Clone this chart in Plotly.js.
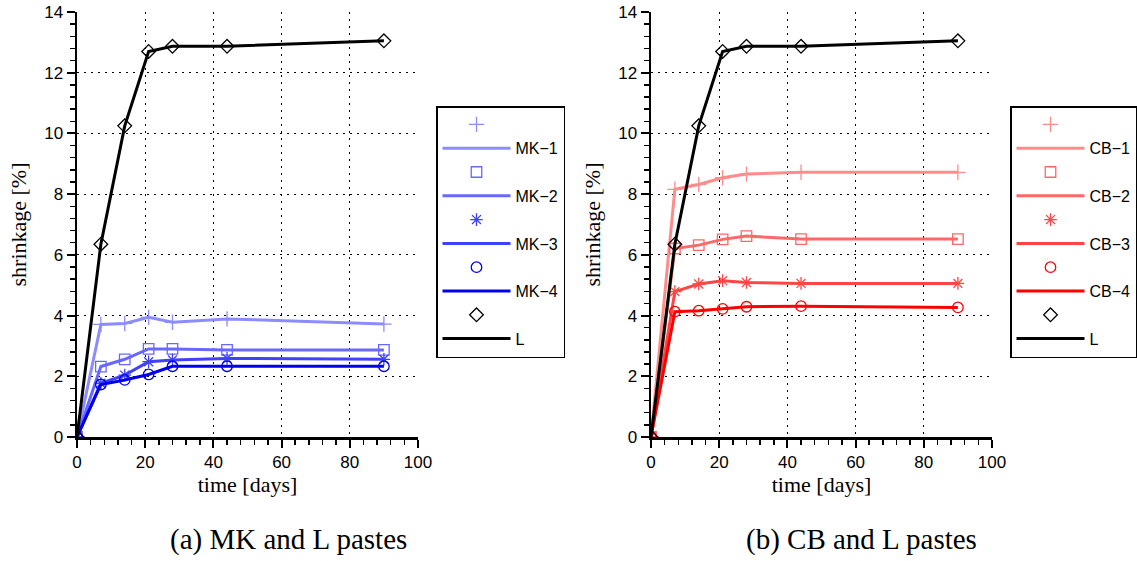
<!DOCTYPE html>
<html>
<head>
<meta charset="utf-8">
<script src="https://cdn.plot.ly/plotly-3.0.1.min.js"></script>
<style>html,body{margin:0;padding:0;background:#fff;}#chart{width:1137px;height:561px;}</style>
</head>
<body>
<div id="chart"></div>
<script>
// ---- data ----
const days = [0, 7, 14, 21, 28, 44, 90];
const mk1 = [0, 3.71, 3.74, 3.94, 3.78, 3.89, 3.72];
const mk2 = [0, 2.32, 2.56, 2.90, 2.90, 2.87, 2.87];
const mk3 = [0, 1.77, 2.04, 2.48, 2.54, 2.59, 2.56];
const mk4 = [0, 1.73, 1.88, 2.06, 2.33, 2.33, 2.33];
const lPaste = [0, 6.35, 10.25, 12.70, 12.87, 12.87, 13.05];
const cb1 = [0, 8.16, 8.32, 8.54, 8.66, 8.72, 8.72];
const cb2 = [0, 6.21, 6.32, 6.51, 6.62, 6.52, 6.52];
const cb3 = [0, 4.79, 5.04, 5.15, 5.09, 5.06, 5.06];
const cb4 = [0, 4.13, 4.16, 4.22, 4.29, 4.31, 4.27];

const mkNames = ['MK\u22121', 'MK\u22122', 'MK\u22123', 'MK\u22124', 'L'];
const cbNames = ['CB\u22121', 'CB\u22122', 'CB\u22123', 'CB\u22124', 'L'];
const yTicks = [0, 2, 4, 6, 8, 10, 12, 14];
const xTicks = [0, 20, 40, 60, 80, 100];

const symbols = ['cross-thin-open', 'square-open', 'asterisk-open', 'circle-open', 'diamond-open'];
const mkColors = ['#8c8cff', '#6868ff', '#4040ff', '#0000ee', '#000000'];
const cbColors = ['#ff8c8c', '#ff6868', '#ff4646', '#ff0000', '#000000'];

const W = 1137, H = 561;
const traces = [];
function addGroup(series, names, colors, xa, ya, leg) {
  series.forEach((ys, i) => {
    traces.push({
      x: days, y: ys, xaxis: xa, yaxis: ya, legend: leg,
      mode: 'lines', name: names[i], legendrank: 10 + 2 * i + 1,
      line: {color: colors[i], width: 3}, hoverinfo: 'skip'
    });
    traces.push({
      x: days, y: ys, xaxis: xa, yaxis: ya, legend: leg,
      mode: 'markers', name: ' ', legendrank: 10 + 2 * i,
      marker: {symbol: symbols[i], size: i === 0 ? 11 : 10.5, color: colors[i], line: {color: colors[i], width: 1.3}},
      hoverinfo: 'skip'
    });
  });
}
addGroup([mk1, mk2, mk3, mk4, lPaste], mkNames, mkColors, 'x', 'y', 'legend');
addGroup([cb1, cb2, cb3, cb4, lPaste], cbNames, cbColors, 'x2', 'y2', 'legend2');

const tickFont = {family: 'Liberation Sans, Arial, sans-serif', size: 17, color: '#000'};
const titleFont = {family: 'Liberation Serif, Times New Roman, serif', size: 22, color: '#000'};
function xAxis(dom, anchor) {
  return {
    domain: dom, anchor: anchor, range: [0, 100], tickvals: xTicks, ticktext: xTicks.map(String),
    ticks: 'outside', ticklen: 8, tickwidth: 2, tickcolor: '#000',
    minor: {dtick: 4, tick0: 0, ticks: 'outside', ticklen: 5, tickwidth: 1.5, tickcolor: '#000', showgrid: false},
    showline: true, linewidth: 2.5, linecolor: '#000', zeroline: false,
    showgrid: true, gridcolor: '#000', gridwidth: 1, griddash: '1.5px,5.5px',
    tickfont: tickFont, fixedrange: true,
    title: {text: 'time [days]', font: titleFont, standoff: 5}
  };
}
function yAxis(anchor) {
  return {
    domain: [(H - 437) / H, (H - 12) / H], anchor: anchor, range: [0, 14], tickvals: yTicks, ticktext: yTicks.map(String),
    ticks: 'outside', ticklen: 8, tickwidth: 2, tickcolor: '#000',
    minor: {dtick: 0.4, tick0: 0, ticks: 'outside', ticklen: 5, tickwidth: 1.5, tickcolor: '#000', showgrid: false},
    showline: true, linewidth: 2.5, linecolor: '#000', zeroline: false,
    showgrid: true, gridcolor: '#000', gridwidth: 1, griddash: '1.5px,5.5px',
    tickfont: tickFont, fixedrange: true,
    title: {text: 'shrinkage [%]', font: titleFont, standoff: 12}
  };
}
const legFont = {family: 'Liberation Sans, Arial, sans-serif', size: 16, color: '#000'};
const layout = {
  width: W, height: H,
  margin: {l: 0, r: 0, t: 0, b: 0},
  paper_bgcolor: '#fff', plot_bgcolor: '#fff',
  showlegend: true,
  xaxis: xAxis([77 / W, 418 / W], 'y'),
  yaxis: yAxis('x'),
  xaxis2: xAxis([651 / W, 992 / W], 'y2'),
  yaxis2: yAxis('x2'),
  legend: {x: 436 / W, y: 1 - 106 / H, xanchor: 'left', yanchor: 'top', bgcolor: '#fff',
    bordercolor: '#000', borderwidth: 1.5, font: legFont, itemwidth: 68, tracegroupgap: 0, traceorder: 'normal'},
  legend2: {x: 1010 / W, y: 1 - 106 / H, xanchor: 'left', yanchor: 'top', bgcolor: '#fff',
    bordercolor: '#000', borderwidth: 1.5, font: legFont, itemwidth: 68, tracegroupgap: 0, traceorder: 'normal'},
  annotations: [
    {text: '(a) MK and L pastes', xref: 'paper', yref: 'paper', x: 288 / W, y: 1 - 539 / H, xanchor: 'center', yanchor: 'middle',
      showarrow: false, font: {family: 'Liberation Serif, Times New Roman, serif', size: 29, color: '#000'}},
    {text: '(b) CB and L pastes', xref: 'paper', yref: 'paper', x: 861 / W, y: 1 - 539 / H, xanchor: 'center', yanchor: 'middle',
      showarrow: false, font: {family: 'Liberation Serif, Times New Roman, serif', size: 29, color: '#000'}}
  ]
};
Plotly.newPlot('chart', traces, layout, {staticPlot: true, displayModeBar: false});
</script>
</body>
</html>
